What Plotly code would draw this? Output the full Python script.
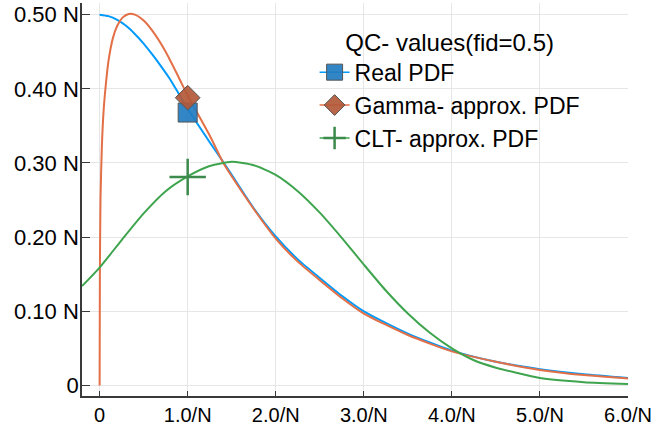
import plotly.graph_objects as go

# ---- data ----
x_real = [0, 0.1, 0.2, 0.3, 0.4, 0.5, 0.6, 0.7, 0.8, 0.9, 1.0, 1.25, 1.4, 1.5, 1.75, 2.0,
          2.25, 2.5, 2.75, 3.0, 3.5, 4.0, 4.5, 5.0, 5.5, 6.0]
y_real = [0.500, 0.498, 0.493, 0.485, 0.474, 0.461, 0.446, 0.430, 0.413, 0.393, 0.373, 0.328,
          0.302, 0.284, 0.239, 0.201, 0.170, 0.145, 0.121, 0.100, 0.070, 0.047, 0.032, 0.022,
          0.015, 0.010]

x_gamma = [0, 0.003, 0.01, 0.025, 0.045, 0.07, 0.1, 0.15, 0.2, 0.26, 0.33, 0.4, 0.5, 0.6,
           0.75, 0.9, 1.0, 1.25, 1.4, 1.5, 1.75, 2.0, 2.25, 2.5, 2.75, 3.0, 3.5, 4.0, 4.5,
           5.0, 5.5, 6.0]
y_gamma = [0.0, 0.15, 0.25, 0.32, 0.37, 0.405, 0.437, 0.468, 0.485, 0.496, 0.501, 0.500,
           0.492, 0.478, 0.450, 0.415, 0.391, 0.337, 0.301, 0.282, 0.238, 0.198, 0.167,
           0.142, 0.118, 0.097, 0.068, 0.046, 0.032, 0.021, 0.014, 0.0095]

x_clt = [-0.2, 0, 0.25, 0.5, 0.75, 1.0, 1.25, 1.5, 1.75, 2.0, 2.25, 2.5, 2.75, 3.0, 3.25,
         3.5, 3.75, 4.0, 4.25, 4.5, 5.0, 5.5, 6.0]
y_clt = [0.134, 0.159, 0.196, 0.232, 0.262, 0.282, 0.296, 0.3015, 0.297, 0.284, 0.262,
         0.233, 0.199, 0.163, 0.128, 0.097, 0.071, 0.050, 0.034, 0.024, 0.010, 0.0045, 0.002]

# QC marker values at x = 1/N
qc_x = 1.0
qc_real = 0.368
qc_gamma = 0.388
qc_clt = 0.281

names = ["Real PDF", "Gamma- approx. PDF", "CLT- approx. PDF"]
legend_title = "QC- values(fid=0.5)"

x_tickvals = [0, 1, 2, 3, 4, 5, 6]
x_ticktext = ["0", "1.0/N", "2.0/N", "3.0/N", "4.0/N", "5.0/N", "6.0/N"]
y_tickvals = [0, 0.1, 0.2, 0.3, 0.4, 0.5]
y_ticktext = ["0", "0.10 N", "0.20 N", "0.30 N", "0.40 N", "0.50 N"]

c_blue, c_orange, c_green = "#009AFA", "#E36F47", "#3EA44E"

fig = go.Figure()
for xs, ys, c in [(x_real, y_real, c_blue), (x_gamma, y_gamma, c_orange), (x_clt, y_clt, c_green)]:
    fig.add_trace(go.Scatter(x=xs, y=ys, mode="lines", showlegend=False,
                             line=dict(color=c, width=2, shape="spline", smoothing=0.6),
                             hoverinfo="skip"))

fig.add_trace(go.Scatter(x=[qc_x], y=[qc_real], mode="lines+markers", name=names[0],
                         line=dict(color=c_blue, width=1.5),
                         marker=dict(symbol="square", size=19, color="rgba(34,124,192,0.92)",
                                     line=dict(color="#555555", width=1))))
fig.add_trace(go.Scatter(x=[qc_x], y=[qc_gamma], mode="lines+markers", name=names[1],
                         line=dict(color=c_orange, width=1.5),
                         marker=dict(symbol="diamond", size=19, color="rgba(178,88,56,0.92)",
                                     line=dict(color="#555555", width=1))))
fig.add_trace(go.Scatter(x=[qc_x], y=[qc_clt], mode="lines+markers", name=names[2],
                         line=dict(color=c_green, width=1.5),
                         marker=dict(symbol="cross-thin", size=26,
                                     line=dict(color="#3C8A4C", width=2.5))))

axis_common = dict(showgrid=True, gridcolor="#E6E6E6", gridwidth=1, zeroline=False,
                   showline=True, linecolor="#3A3A3A", linewidth=1.5, ticks="inside",
                   tickcolor="#3A3A3A")

fig.update_layout(
    width=654, height=428,
    margin=dict(l=82, r=24, t=2, b=31),
    plot_bgcolor="white", paper_bgcolor="white",
    font=dict(family="Liberation Sans, Arial, sans-serif", color="black"),
    xaxis=dict(range=[-0.2, 6.0], tickvals=x_tickvals, ticktext=x_ticktext, ticklen=5,
               tickfont=dict(size=20, color="black"), **axis_common),
    yaxis=dict(range=[-0.0142, 0.5157], tickvals=y_tickvals, ticktext=y_ticktext, ticklen=8,
               tickfont=dict(size=22, color="black"), ticklabelstandoff=-3, **axis_common),
    legend=dict(x=0.426, y=0.958, xanchor="left", yanchor="top", bgcolor="rgba(0,0,0,0)",
                font=dict(size=23), title=dict(text=legend_title, side="top center",
                                               font=dict(size=24)),
                itemwidth=30, tracegroupgap=0),
)

fig.write_html("out.html")
